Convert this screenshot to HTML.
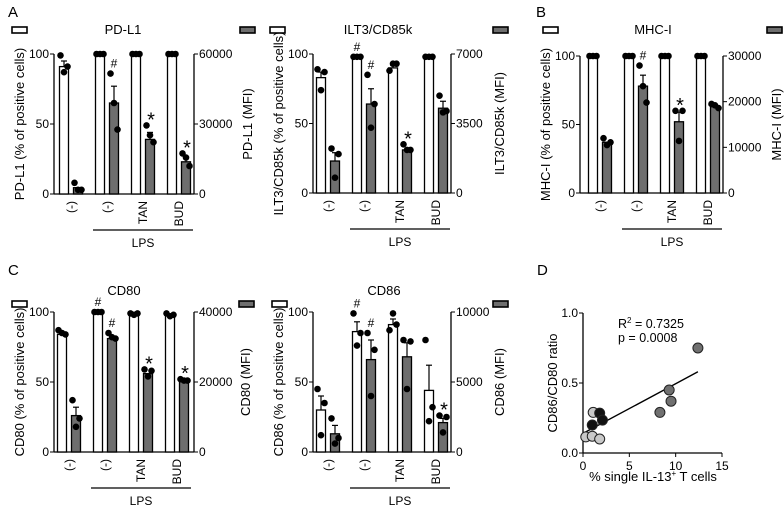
<!DOCTYPE html>
<html><head><meta charset="utf-8">
<style>
body{margin:0;background:#fff;}
svg{display:block;font-family:"Liberation Sans",Arial,sans-serif;}
</style></head>
<body>
<svg id="fig" width="784" height="506" viewBox="0 0 784 506"></svg>
<script>
// ---- data ----
const categories = ["(-)", "(-)", "TAN", "BUD"];
// Panel A PD-L1
const pdl1White = [91, 100, 100, 100];
const pdl1WhiteErr = [95, 100, 100, 100];
const pdl1WhiteDots = [[99, 87, 91], [100, 100, 100], [100, 100, 100], [100, 100, 100]];
const pdl1Gray = [2700, 39000, 23400, 13800];
const pdl1GrayErr = [2700, 46200, 26400, 15600];
const pdl1GrayDots = [[4800, 1800, 1800], [51600, 39000, 27600], [29400, 25200, 22200], [17400, 15600, 12000]];
// ILT3
const iltWhite = [83, 98, 90, 98];
const iltWhiteErr = [87, 98, 92, 98];
const iltWhiteDots = [[89, 74, 87], [98, 98, 98], [88, 93, 93], [98, 98, 98]];
const iltGray = [1610, 4480, 2170, 4270];
const iltGrayErr = [2030, 5250, 2170, 4620];
const iltGrayDots = [[2240, 770, 1960], [5950, 3290, 4480], [2450, 2170, 2170], [4900, 4060, 4130]];
// MHC-I
const mhcWhite = [100, 100, 100, 100];
const mhcWhiteErr = [100, 100, 100, 100];
const mhcWhiteDots = [[100, 100, 100], [100, 100, 100], [100, 100, 100], [100, 100, 100]];
const mhcGray = [11100, 23400, 15600, 18900];
const mhcGrayErr = [11100, 25800, 17700, 18900];
const mhcGrayDots = [[12000, 10500, 11100], [27900, 23400, 19800], [18000, 11400, 18000], [19500, 19200, 18600]];
// CD80
const cd80White = [84, 100, 99, 98];
const cd80WhiteErr = [84, 100, 99, 98];
const cd80WhiteDots = [[87, 85, 84], [100, 100, 100], [99, 98, 99], [99, 97, 98]];
const cd80Gray = [10400, 32400, 22400, 20400];
const cd80GrayErr = [12800, 32400, 22400, 20400];
const cd80GrayDots = [[14800, 7200, 9600], [34000, 32800, 32400], [23600, 21600, 23200], [20800, 20400, 20400]];
// CD86
const cd86White = [30, 86, 91, 44];
const cd86WhiteErr = [40, 93, 95, 62];
const cd86WhiteDots = [[45, 12, 35], [99, 76, 85], [87, 99, 91], [80, 22, 32]];
const cd86Gray = [1300, 6600, 6800, 2100];
const cd86GrayErr = [1900, 8000, 7800, 2400];
const cd86GrayDots = [[2400, 600, 1000], [8500, 4000, 7300], [8000, 4500, 7900], [2600, 1400, 2500]];
// Panel D scatter
const lightX = [0.3, 1.0, 1.1, 1.8];
const lightY = [0.115, 0.12, 0.29, 0.10];
const blackX = [1.0, 1.8, 2.1];
const blackY = [0.20, 0.285, 0.235];
const darkX = [8.3, 9.3, 9.5, 12.4];
const darkY = [0.29, 0.45, 0.37, 0.75];
const fitX = [0, 12.4];
const fitY = [0.14, 0.58];

const NS = "http://www.w3.org/2000/svg";
const svg = document.getElementById("fig");
function mk(tag, attrs, parent, txt) {
  const e = document.createElementNS(NS, tag);
  for (const k in attrs) e.setAttribute(k, attrs[k]);
  if (txt !== undefined) e.textContent = txt;
  (parent || svg).appendChild(e);
  return e;
}

function panel(cfg) {
  const g = mk("g", {});
  
  
  const L = cfg.left, R = cfg.right, T = cfg.top, B = cfg.bottom;
  const yl = v => B - (v / 100) * (B - T);
  const yr = v => B - (v / cfg.rmax) * (B - T);
  const la = mk("line", {x1: L, y1: T, x2: L, y2: B, stroke: "#000", "stroke-width": 1.3}, g);
  
  
  const ra = mk("line", {x1: R, y1: T, x2: R, y2: B, stroke: "#000", "stroke-width": 1.3}, g);
  
  
  mk("line", {x1: L, y1: B, x2: R, y2: B, stroke: "#000", "stroke-width": 1.3}, g);
  [0, 50, 100].forEach(v => {
    mk("line", {x1: L - 4, y1: yl(v), x2: L, y2: yl(v), stroke: "#000"}, g);
    const t = mk("text", {x: L - 5, y: yl(v) + 4, "text-anchor": "end", "font-size": 12}, g, String(v));
    
    
  });
  cfg.rticks.forEach(v => {
    mk("line", {x1: R, y1: yr(v), x2: R + 4, y2: yr(v), stroke: "#000"}, g);
    const t = mk("text", {x: R + 5, y: yr(v) + 4, "font-size": 12}, g, String(v));
    
    
  });
  const bw = 9;
  categories.forEach((c, i) => {
    const xw = L + cfg.off + 36 * i, xg = xw + 14;
    const hw = cfg.white[i], hg = cfg.gray[i];
    mk("line", {x1: xw, y1: yl(hw), x2: xw, y2: yl(cfg.whiteErr[i]), stroke: "#000", "stroke-width": 1.2}, g);
    mk("line", {x1: xw - 3, y1: yl(cfg.whiteErr[i]), x2: xw + 3, y2: yl(cfg.whiteErr[i]), stroke: "#000", "stroke-width": 1.2}, g);
    const wb = mk("rect", {x: xw - bw / 2, y: yl(hw), width: bw, height: B - yl(hw), fill: "#fff", stroke: "#000", "stroke-width": 1.3}, g);
    
    
    mk("line", {x1: xg, y1: yr(hg), x2: xg, y2: yr(cfg.grayErr[i]), stroke: "#000", "stroke-width": 1.2}, g);
    mk("line", {x1: xg - 3, y1: yr(cfg.grayErr[i]), x2: xg + 3, y2: yr(cfg.grayErr[i]), stroke: "#000", "stroke-width": 1.2}, g);
    const gb = mk("rect", {x: xg - bw / 2, y: yr(hg), width: bw, height: B - yr(hg), fill: "#6e6e6e", stroke: "#000", "stroke-width": 1.3}, g);
    
    
    const dx = [-3.5, 0, 3.5];
    cfg.whiteDots[i].forEach((v, j) => {
      const d = mk("circle", {cx: xw + dx[j], cy: yl(v), r: 3.3, fill: "#000"}, g);
      
      
    });
    cfg.grayDots[i].forEach((v, j) => {
      const d = mk("circle", {cx: xg + dx[j], cy: yr(v), r: 3.3, fill: "#000"}, g);
      
      
    });
    const cx = xw + 7 + 4;
    const lt = mk("text", {x: cx, y: B + 7, "text-anchor": "end", "font-size": 12, transform: `rotate(-90 ${cx} ${B + 7})`}, g, c);
    
    
    (cfg.ann[i] || []).forEach(a => {
      const isW = a[0] === 'w';
      const x = isW ? xw : xg;
      const top = Math.min(isW ? yl(cfg.whiteErr[i]) : yr(cfg.grayErr[i]),
        Math.min(...(isW ? cfg.whiteDots[i].map(yl) : cfg.grayDots[i].map(yr))));
      const sym = a[1];
      const t = mk("text", {x: x + (sym === '*' ? 1 : 0), y: sym === '*' ? top + 1 : top - 6, "text-anchor": "middle", "font-size": sym === '*' ? 20 : 12}, g, sym);
      
      
    });
  });
  const x1 = L + cfg.off + 36 - 7, x2 = L + cfg.off + 108 + 21;
  mk("line", {x1: x1, y1: B + 36, x2: x2, y2: B + 36, stroke: "#000", "stroke-width": 1.2}, g);
  const lp = mk("text", {x: (x1 + x2) / 2, y: B + 53, "text-anchor": "middle", "font-size": 12}, g, "LPS");
  
  
  const tt = mk("text", {x: cfg.titleX, y: cfg.titleY, "text-anchor": "middle", "font-size": 13}, g, cfg.title);
  
  
  const lx = L - 30, mid = (T + B) / 2;
  const ly = mk("text", {x: lx, y: mid, "text-anchor": "middle", "font-size": 13, transform: `rotate(-90 ${lx} ${mid})`}, g, cfg.ltitle);
  
  
  const rx = cfg.rtx, ry = mid;
  const rt = mk("text", {x: rx, y: ry, "text-anchor": "middle", "font-size": 13, transform: `rotate(-90 ${rx} ${ry})`}, g, cfg.rtitle);
  
  
  const lw = mk("rect", {x: cfg.lgW[0], y: cfg.lgW[1], width: 15, height: 6, fill: "#fff", stroke: "#000", "stroke-width": 1.6}, g);
  
  
  const lg = mk("rect", {x: cfg.lgG[0], y: cfg.lgG[1], width: 15, height: 6, fill: "#6e6e6e", stroke: "#000", "stroke-width": 1.6}, g);
  
  
}

panel({name: "pd-l1", left: 54, right: 194, top: 54, bottom: 194, off: 10, rmax: 60000, rticks: [0, 30000, 60000],
  white: pdl1White, whiteErr: pdl1WhiteErr, whiteDots: pdl1WhiteDots, gray: pdl1Gray, grayErr: pdl1GrayErr, grayDots: pdl1GrayDots,
  ann: [null, [['g', '#']], [['g', '*']], [['g', '*']]], title: "PD-L1", titleX: 123, titleY: 34,
  ltitle: "PD-L1 (% of positive cells)", rtitle: "PD-L1 (MFI)", rtx: 252, lgW: [12, 27], lgG: [240, 27]});
panel({name: "ilt3", left: 313, right: 451, top: 54, bottom: 193, off: 8, rmax: 7000, rticks: [0, 3500, 7000],
  white: iltWhite, whiteErr: iltWhiteErr, whiteDots: iltWhiteDots, gray: iltGray, grayErr: iltGrayErr, grayDots: iltGrayDots,
  ann: [null, [['w', '#'], ['g', '#']], [['g', '*']], null], title: "ILT3/CD85k", titleX: 378, titleY: 34,
  ltitle: "ILT3/CD85k (% of positive cells)", rtitle: "ILT3/CD85k (MFI)", rtx: 504, lgW: [270, 27], lgG: [493, 27]});
panel({name: "mhc-i", left: 580, right: 723, top: 56, bottom: 193, off: 13, rmax: 30000, rticks: [0, 10000, 20000, 30000],
  white: mhcWhite, whiteErr: mhcWhiteErr, whiteDots: mhcWhiteDots, gray: mhcGray, grayErr: mhcGrayErr, grayDots: mhcGrayDots,
  ann: [null, [['g', '#']], [['g', '*']], null], title: "MHC-I", titleX: 653, titleY: 34,
  ltitle: "MHC-I (% of positive cells)", rtitle: "MHC-I (MFI)", rtx: 781, lgW: [543, 27], lgG: [767, 27]});
panel({name: "cd80", left: 54, right: 194, top: 312, bottom: 452, off: 8, rmax: 40000, rticks: [0, 20000, 40000],
  white: cd80White, whiteErr: cd80WhiteErr, whiteDots: cd80WhiteDots, gray: cd80Gray, grayErr: cd80GrayErr, grayDots: cd80GrayDots,
  ann: [null, [['w', '#'], ['g', '#']], [['g', '*']], [['g', '*']]], title: "CD80", titleX: 124, titleY: 295,
  ltitle: "CD80 (% of positive cells)", rtitle: "CD80 (MFI)", rtx: 250, lgW: [12, 301], lgG: [239, 301]});
panel({name: "cd86", left: 313, right: 451, top: 312, bottom: 452, off: 8, rmax: 10000, rticks: [0, 5000, 10000],
  white: cd86White, whiteErr: cd86WhiteErr, whiteDots: cd86WhiteDots, gray: cd86Gray, grayErr: cd86GrayErr, grayDots: cd86GrayDots,
  ann: [null, [['w', '#'], ['g', '#']], null, [['g', '*']]], title: "CD86", titleX: 384, titleY: 295,
  ltitle: "CD86 (% of positive cells)", rtitle: "CD86 (MFI)", rtx: 504, lgW: [272, 301], lgG: [493, 301]});

[["A", 8, 17], ["B", 536, 17], ["C", 8, 275], ["D", 537, 275]].forEach(p => {
  const t = mk("text", {x: p[1], y: p[2], "font-size": 15}, svg, p[0]);
  
  
});

(function () {
  const g = mk("g", {});
  
  
  const L = 583, R = 722, T = 313, B = 453;
  const sx = v => L + (v / 15) * (R - L);
  const sy = v => B - v * (B - T);
  mk("line", {x1: L, y1: T, x2: L, y2: B, stroke: "#000", "stroke-width": 1.3}, g);
  mk("line", {x1: L, y1: B, x2: R, y2: B, stroke: "#000", "stroke-width": 1.3}, g);
  [0, 0.5, 1.0].forEach((v, i) => {
    mk("line", {x1: L - 4, y1: sy(v), x2: L, y2: sy(v), stroke: "#000"}, g);
    const t = mk("text", {x: L - 5, y: sy(v) + 4, "text-anchor": "end", "font-size": 12}, g, ["0.0", "0.5", "1.0"][i]);
    
    
  });
  [0, 5, 10, 15].forEach(v => {
    mk("line", {x1: sx(v), y1: B, x2: sx(v), y2: B + 4, stroke: "#000"}, g);
    const t = mk("text", {x: sx(v), y: B + 17, "text-anchor": "middle", "font-size": 12}, g, String(v));
    
    
  });
  const fl = mk("line", {x1: sx(fitX[0]), y1: sy(fitY[0]), x2: sx(fitX[1]), y2: sy(fitY[1]), stroke: "#000", "stroke-width": 1.4}, g);
  
  
  function pts(xs, ys, fill, nm) {
    xs.forEach((x, i) => {
      const c = mk("circle", {cx: sx(x), cy: sy(ys[i]), r: 5, fill: fill, stroke: "#222", "stroke-width": 1}, g);
      
      
    });
  }
  pts(darkX, darkY, "#707070", 'point-dark');
  pts(lightX, lightY, "#c8c8c8", 'point-light');
  pts(blackX, blackY, "#111", 'point-black');
  const r2 = mk("text", {x: 618, y: 328, "font-size": 12.5}, g);
  
  
  mk("tspan", {}, r2, "R");
  mk("tspan", {dy: -5, "font-size": 8}, r2, "2");
  mk("tspan", {dy: 5}, r2, " = 0.7325");
  const pv = mk("text", {x: 618, y: 342, "font-size": 12.5}, g, "p = 0.0008");
  
  
  const yt = mk("text", {x: 557, y: 383, "text-anchor": "middle", "font-size": 13, transform: "rotate(-90 557 383)"}, g, "CD86/CD80 ratio");
  
  
  const xt = mk("text", {x: 653, y: 481, "text-anchor": "middle", "font-size": 13}, g);
  
  
  mk("tspan", {}, xt, "% single IL-13");
  mk("tspan", {dy: -5, "font-size": 8}, xt, "+");
  mk("tspan", {dy: 5}, xt, " T cells");
})();
</script>
</body></html>
